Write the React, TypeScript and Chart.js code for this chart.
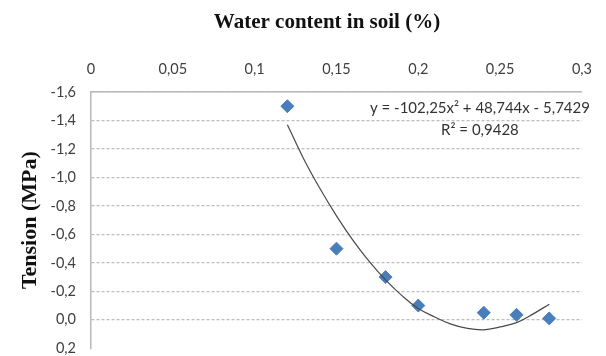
import React, { useEffect, useRef } from "react";
import { Chart, registerables } from "chart.js";

Chart.register(...registerables);

// Measured points: water content (x) vs tension (y, MPa)
const waterContent = [0.12, 0.15, 0.18, 0.2, 0.24, 0.26, 0.28];
const tension = [-1.5, -0.5, -0.3, -0.1, -0.05, -0.035, -0.01];

// Polynomial trendline
const trendX = [0.12, 0.13, 0.14, 0.15, 0.16, 0.17, 0.18, 0.19, 0.2, 0.21, 0.22, 0.23, 0.24, 0.25, 0.26, 0.27, 0.28];
const trendY = [-1.37, -1.13, -0.92, -0.73, -0.56, -0.41, -0.28, -0.17, -0.08, -0.02, 0.03, 0.06, 0.07, 0.05, 0.02, -0.04, -0.11];

const xTitle = "Water content in soil (%)";
const yTitle = "Tension (MPa)";
const equationText = "y = -102,25x\u00B2 + 48,744x - 5,7429";
const r2Text = "R\u00B2 = 0,9428";

const X_MIN = 0, X_MAX = 0.3, X_STEP = 0.05;
const Y_MIN = -1.6, Y_MAX = 0.2, Y_STEP = 0.2;

const W = 606, H = 372;

const tickFont = { family: "Lato", size: 14.5 };
const serif = "'Liberation Serif', 'Times New Roman', serif";
const titleFont = { family: serif, size: 22, weight: "bold" as const };

const labelsPlugin = {
  id: "chartLabels",
  afterDatasetsDraw(chart: any) {
    const { ctx, chartArea } = chart;
    ctx.save();
    // trendline equation
    ctx.font = `15px Lato`;
    ctx.fillStyle = "#333333";
    ctx.textAlign = "center";
    ctx.textBaseline = "middle";
    const cx = chartArea.right - 102;
    ctx.fillText(equationText, cx, chartArea.top + 16);
    ctx.fillText(r2Text, cx, chartArea.top + 38);
    // horizontal axis title (above the top axis)
    ctx.font = `bold 21px ${serif}`;
    ctx.fillStyle = "#111111";
    ctx.fillText(xTitle, chartArea.left + 236, 23);
    ctx.restore();
  },
};

export default function App() {
  const ref = useRef<HTMLCanvasElement>(null);
  useEffect(() => {
    if (!ref.current) return;
    const chart = new Chart(ref.current, {
      type: "scatter",
      data: {
        datasets: [
          {
            label: "Trend",
            data: trendX.map((x, i) => ({ x, y: trendY[i] })),
            showLine: true,
            borderColor: "#4a4a4a",
            borderWidth: 1.2,
            pointRadius: 0,
            tension: 0.4,
            fill: false,
          },
          {
            label: "Tension",
            data: waterContent.map((x, i) => ({ x, y: tension[i] })),
            pointStyle: "rectRot",
            pointRadius: 6.5,
            backgroundColor: "#4A7EBB",
            borderColor: "#4A7EBB",
            borderWidth: 1,
            showLine: false,
          },
        ],
      },
      options: {
        responsive: false,
        animation: false,
        devicePixelRatio: 1,
        layout: { padding: { top: 0, left: 0, right: 18, bottom: 21 } },
        plugins: { legend: { display: false }, tooltip: { enabled: false } },
        scales: {
          x: {
            type: "linear",
            position: "top",
            min: X_MIN,
            max: X_MAX,
            ticks: {
              stepSize: X_STEP,
              padding: 14,
              color: "#404040",
              font: tickFont,
              callback: (v: any) => String(Number(Number(v).toFixed(2))).replace(".", ","),
            },
            grid: { display: false, drawTicks: false },
            border: { display: true, color: "#B8B8B8", width: 1.5 },
            title: { display: false, text: xTitle },
            afterFit: (s: any) => { s.height = 92; },
          },
          y: {
            type: "linear",
            reverse: true,
            min: Y_MIN,
            max: Y_MAX,
            ticks: {
              stepSize: Y_STEP,
              padding: 15,
              color: "#404040",
              font: tickFont,
              callback: (v: any) => {
                const n = Math.abs(Number(v)) < 1e-9 ? 0 : Number(v);
                return n.toFixed(1).replace(".", ",");
              },
            },
            grid: {
              display: true,
              drawTicks: false,
              color: (c: any) => (c.index === 0 ? "rgba(0,0,0,0)" : "#BDBDBD"),
              lineWidth: 1.2,
            },
            border: { display: true, color: "#B8B8B8", width: 1.5, dash: [3, 2] },
            title: { display: true, text: yTitle, color: "#111111", font: titleFont, padding: { top: 17, bottom: 0 } },
            afterFit: (s: any) => { s.width = 91; },
          },
        },
      },
      plugins: [labelsPlugin],
    });
    return () => chart.destroy();
  }, []);
  return (
    <div style={{ position: "fixed", left: 0, top: 0, width: W, height: H }}>
      <canvas ref={ref} width={W} height={H} style={{ display: "block", width: W, height: H }} />
    </div>
  );
}
